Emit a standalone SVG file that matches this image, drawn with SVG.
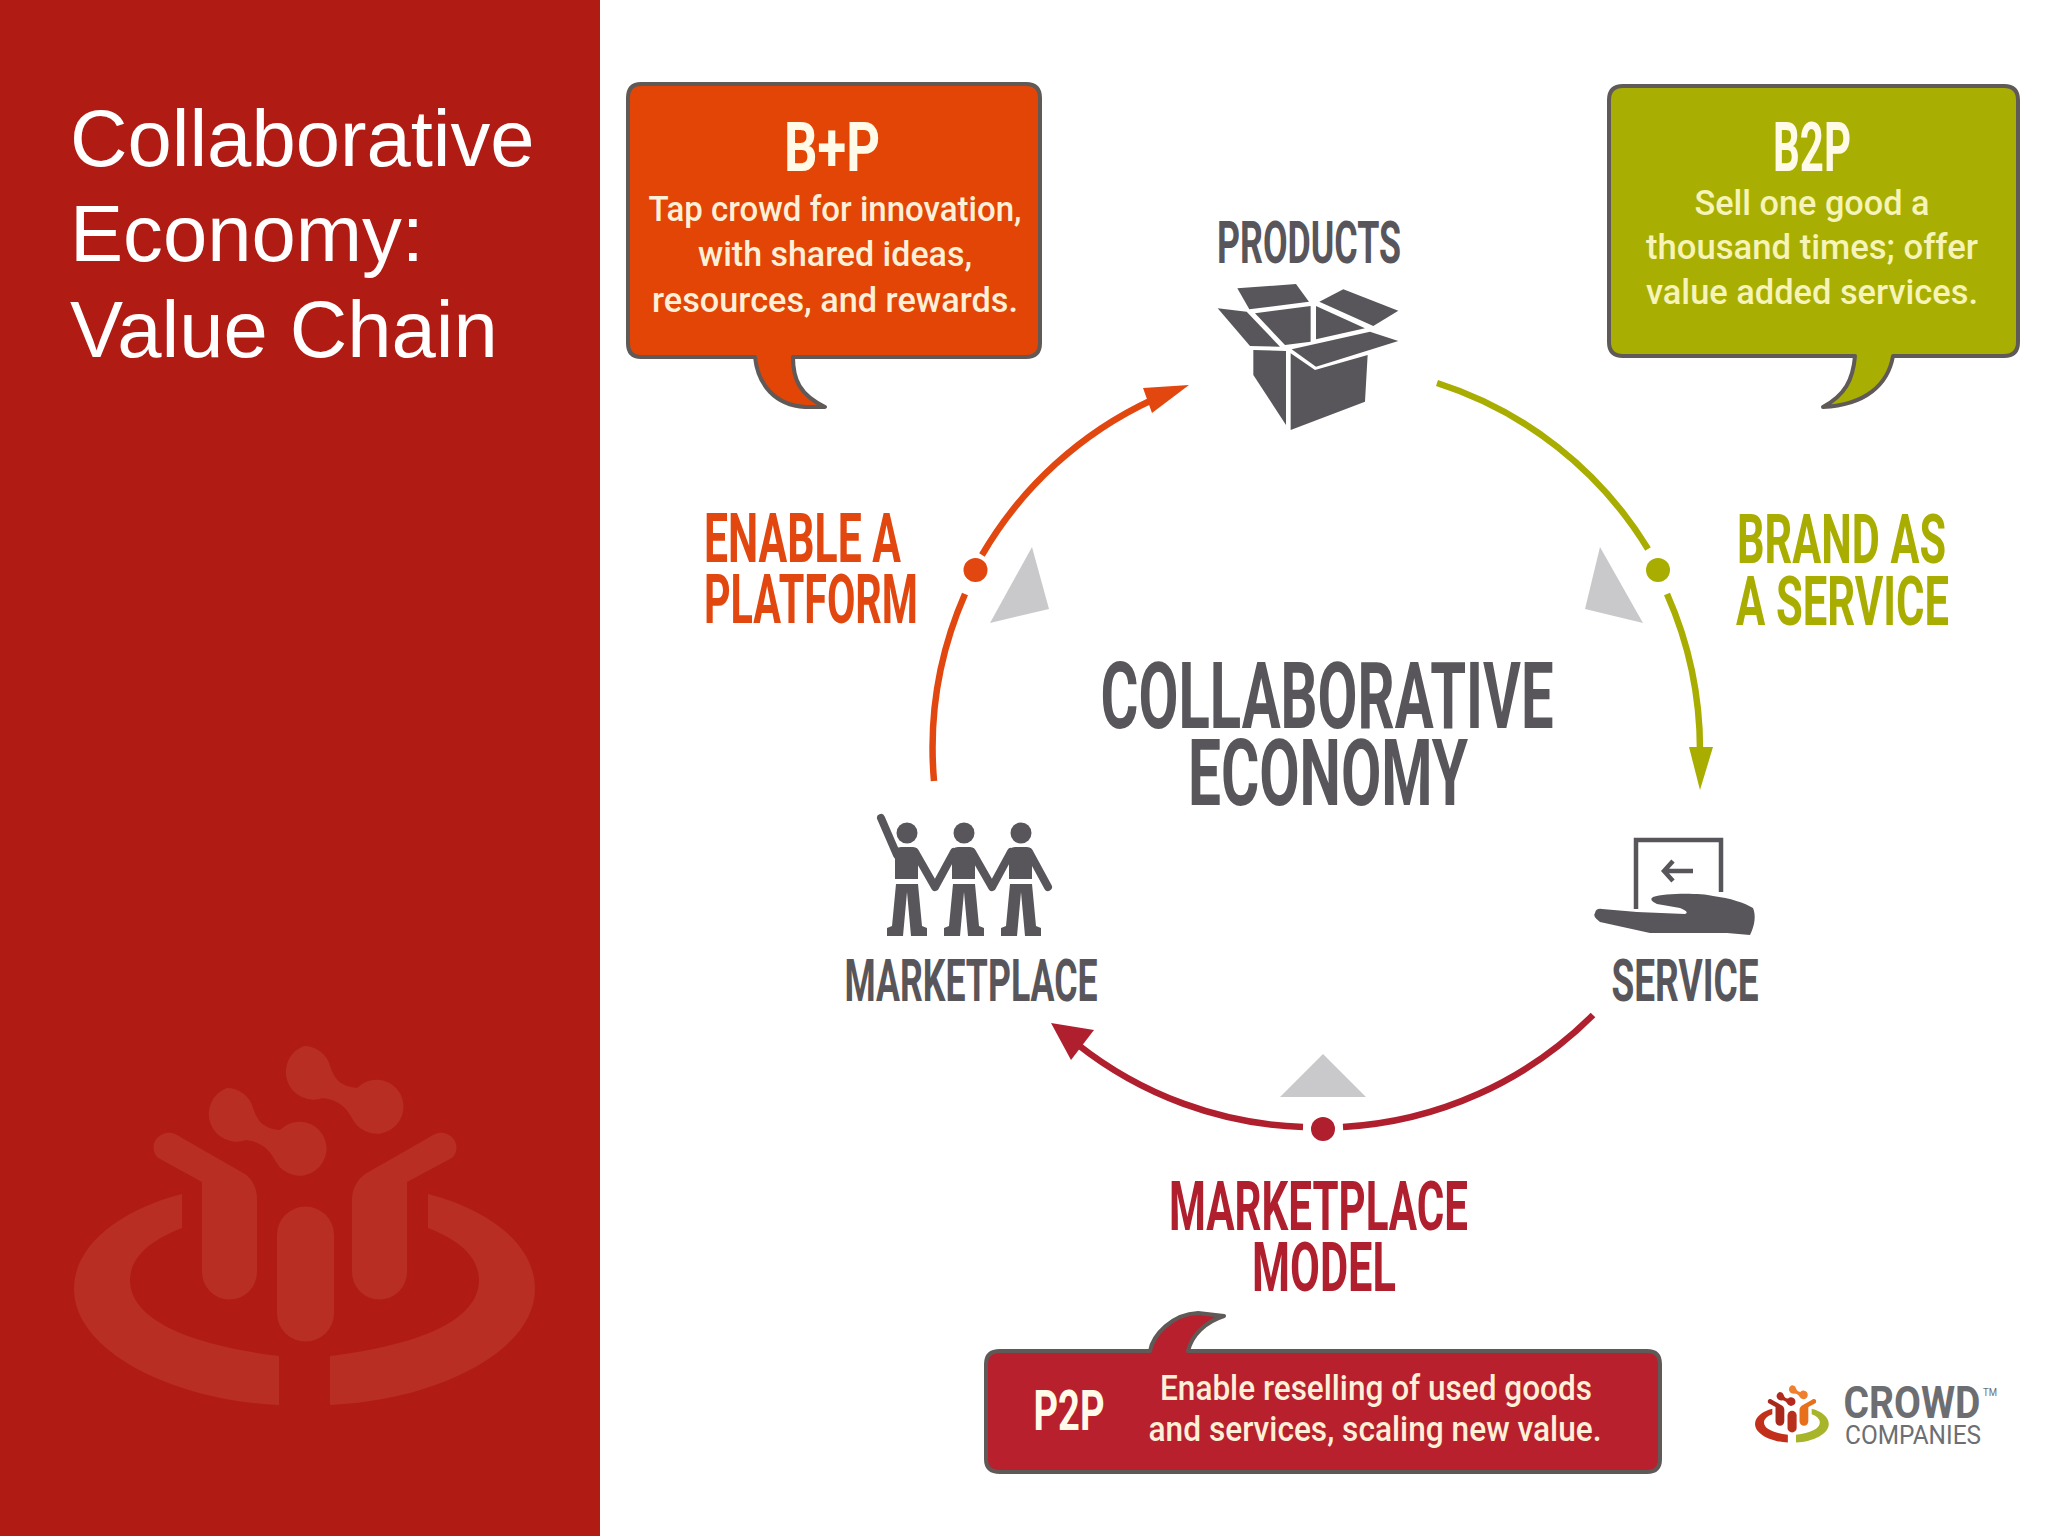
<svg xmlns="http://www.w3.org/2000/svg" xmlns:xlink="http://www.w3.org/1999/xlink" width="2048" height="1536" viewBox="0 0 2048 1536">
<style>
text{font-family:Roboto,"Liberation Sans",sans-serif;text-anchor:middle}
.title{font-family:"Liberation Sans",Arial,sans-serif;font-size:79.600px;fill:#fff;text-anchor:start}
.icon{fill:#58565a}
.name{font-size:60px;font-weight:700;fill:#58565a}
.big{font-size:92px;font-weight:700;fill:#58565a}
.lab{font-size:68px;font-weight:700}
.or{fill:#e2470f}.gr{fill:#a8ad00}.rd{fill:#b01f2e}
.box{stroke:#5f5a58;stroke-width:4;stroke-linejoin:round}
.head{font-size:68px;font-weight:700;fill:#fffbe8}
.body{font-size:35px;font-weight:500;fill:#fdf0d8}
.arc{fill:none;stroke-width:6.500}
.tri{fill:#c9c9cb}
</style>
<defs>
<path id="ringL" d="M182 1194C120 1210 74 1245 74 1289C74 1350 170 1400 279 1405V1356C190 1345 130 1320 130 1280C130 1258 150 1240 182 1228Z"/>
<path id="ringR" d="M428 1194C490 1210 535 1245 535 1289C535 1350 440 1400 330 1405V1356C420 1345 479 1320 479 1280C479 1258 460 1240 428 1228Z"/>
<path id="pill" d="M277 1235a28 28 0 0 1 57 0V1313a28 28 0 0 1-57 0Z"/>
<path id="yL" d="M157 1157C150 1148 154 1136 166 1133C172 1132 176 1134 182 1138L245 1174C254 1181 257 1190 257 1200V1272a27.500 27.500 0 0 1-55 0V1182L162 1160Z"/>
<path id="yR" d="M453 1157C460 1148 456 1136 444 1133C438 1132 434 1134 428 1138L365 1174C356 1181 352 1190 352 1200V1272a27.500 27.500 0 0 0 55 0V1182L448 1160Z"/>
<path id="dbA" d="M227 1088a27 27 0 0 1 26 20C258 1122 263 1128 280 1130a27 27 0 1 1-4 32C270 1150 262 1142 246 1140a27 27 0 1 1-19-52Z"/>
<path id="dbB" d="M304 1046a27 27 0 0 1 26 20C335 1080 340 1086 357 1088a27 27 0 1 1-4 32C347 1108 339 1100 323 1098a27 27 0 1 1-19-52Z"/>
<g id="legs">
<path d="M-11 884H11L15 926L20 928V936H4L0 892L-4 936H-20V928L-15 926Z"/>
<path d="M-12 853Q-12 847-6 847H6Q11 847 11 853V879H-12Z"/>
</g>
</defs>
<rect width="2048" height="1536" fill="#fff"/>
<g id="side-panel">
<rect width="600" height="1536" fill="#b01c14"/>
<g id="watermark" fill="#b82e22">
<use href="#ringL"/><use href="#ringR"/><use href="#pill"/><use href="#yL"/><use href="#yR"/><use href="#dbA"/><use href="#dbB"/>
</g>
<text class="title" x="70" y="166">Collaborative</text>
<text class="title" x="70" y="261">Economy:</text>
<text class="title" x="70" y="357">Value Chain</text>
</g>
<g id="connectors">
<path class="arc" stroke="#e2470f" d="M934 781A384 384 0 0 1 965 594M982 555A384 384 0 0 1 1152 400"/>
<path class="or" d="M1189 385L1143 388L1152 413Z"/>
<circle class="or" cx="975.500" cy="570" r="12"/>
<path class="arc" stroke="#a8ad00" d="M1437 383A384 384 0 0 1 1648 549M1667 594A384 384 0 0 1 1700 750"/>
<path class="gr" d="M1700 790L1689 747H1713Z"/>
<circle class="gr" cx="1658" cy="570" r="12"/>
<path class="arc" stroke="#b01f2e" d="M1593 1015A384 384 0 0 1 1343 1127M1303 1127A384 384 0 0 1 1077 1044"/>
<path class="rd" d="M1051 1023L1094 1030L1071 1060Z"/>
<circle class="rd" cx="1323" cy="1129" r="12"/>
<path class="tri" d="M1032 547L990 623L1049 609Z"/>
<path class="tri" d="M1600 547L1585 609L1643 623Z"/>
<path class="tri" d="M1323 1054L1280 1097H1366Z"/>
</g>
<g id="node-b-plus-p">
<path class="box" fill="#e24505" d="M641 84H1026Q1040 84 1040 98V343Q1040 357 1026 357H793C793 380 800 395 825 407H805C775 405 758 385 755 357H641Q628 357 628 343V98Q628 84 641 84Z"/>
<text class="head" x="832" y="171" textLength="96" lengthAdjust="spacingAndGlyphs">B+P</text>
<text class="body" x="835" y="221" textLength="373" lengthAdjust="spacingAndGlyphs">Tap crowd for innovation,</text>
<text class="body" x="835" y="266" textLength="274" lengthAdjust="spacingAndGlyphs">with shared ideas,</text>
<text class="body" x="835" y="312" textLength="366" lengthAdjust="spacingAndGlyphs">resources, and rewards.</text>
</g>
<g id="node-b2p">
<path class="box" fill="#a9af02" d="M1623 86H2004Q2018 86 2018 100V342Q2018 356 2004 356H1893C1888 385 1865 405 1823 407C1845 395 1853 380 1855 356H1623Q1609 356 1609 342V100Q1609 86 1623 86Z"/>
<text class="head" x="1812" y="171" textLength="78" lengthAdjust="spacingAndGlyphs" fill="#fffbe0">B2P</text>
<text class="body" x="1812" y="215" textLength="235" lengthAdjust="spacingAndGlyphs" style="fill:#f6f4b8">Sell one good a</text>
<text class="body" x="1812" y="259" textLength="332" lengthAdjust="spacingAndGlyphs" style="fill:#f6f4b8">thousand times; offer</text>
<text class="body" x="1812" y="304" textLength="332" lengthAdjust="spacingAndGlyphs" style="fill:#f6f4b8">value added services.</text>
</g>
<g id="node-p2p">
<path class="box" fill="#b8202e" d="M1000 1351H1150C1153 1335 1172 1314 1198 1313L1224 1316C1205 1322 1192 1335 1188 1351H1647Q1660 1351 1660 1364V1459Q1660 1472 1647 1472H1000Q986 1472 986 1459V1364Q986 1351 1000 1351Z"/>
<text class="head" x="1069" y="1430" textLength="71" lengthAdjust="spacingAndGlyphs" style="font-size:56px">P2P</text>
<text class="body" x="1376" y="1400" textLength="432" lengthAdjust="spacingAndGlyphs">Enable reselling of used goods</text>
<text class="body" x="1375" y="1441" textLength="453" lengthAdjust="spacingAndGlyphs">and services, scaling new value.</text>
</g>
<g id="node-products">
<text class="name" x="1309" y="263" textLength="184" lengthAdjust="spacingAndGlyphs">PRODUCTS</text>
<g class="icon" transform="translate(1190 270) scale(.3333)">
<path d="M142 55L318 42L357 95L178 118Z"/>
<path d="M83 115L170 125L270 230L180 228Z"/>
<path d="M388 95L460 58L625 122L550 168Z"/>
<path d="M305 238L540 185L625 213L378 290Z"/>
<path d="M195 130L362 108V215L285 225Z"/>
<path d="M378 108L525 175L378 208Z"/>
<path d="M190 240L288 243V465L190 315Z"/>
<path d="M302 250L375 300L533 255L525 395L302 480Z"/>
</g>
</g>
<g id="node-marketplace">
<g class="icon">
<circle cx="907" cy="833" r="10.500"/><circle cx="964" cy="833" r="10.500"/><circle cx="1021" cy="833" r="10.500"/>
<use href="#legs" x="907"/><use href="#legs" x="964"/><use href="#legs" x="1021"/>
<path fill="none" stroke="#58565a" stroke-width="8" stroke-linecap="round" stroke-linejoin="round" d="M881 818L897 855M915 852L935 887L954 852M972 852L992 887L1011 852M1029 852L1048 887"/>
</g>
<text class="name" x="971" y="1001" textLength="253" lengthAdjust="spacingAndGlyphs">MARKETPLACE</text>
</g>
<g id="node-service">
<path fill="none" stroke="#58565a" stroke-width="4.500" d="M1636 909V840H1721V892"/>
<path fill="none" stroke="#58565a" stroke-width="4.500" d="M1665 871H1693M1673 861L1664 871L1673 881"/>
<path class="icon" d="M1653 897C1665 893 1700 893 1713 896C1730 898 1745 903 1753 908C1756 915 1755 925 1750 935L1727 933H1650L1600 922Q1592 916 1595 913Q1596 908 1602 909L1637 912L1685 914Q1690 912 1680 908L1657 904Q1648 900 1653 897Z"/>
<text class="name" x="1685" y="1001" textLength="147" lengthAdjust="spacingAndGlyphs">SERVICE</text>
</g>
<g id="node-center">
<text class="big" x="1327" y="728" textLength="453" lengthAdjust="spacingAndGlyphs">COLLABORATIVE</text>
<text class="big" x="1328" y="805" textLength="280" lengthAdjust="spacingAndGlyphs">ECONOMY</text>
</g>
<g id="labels">
<text class="lab or" x="802.500" y="562" textLength="197" lengthAdjust="spacingAndGlyphs">ENABLE A</text>
<text class="lab or" x="811" y="623" textLength="214" lengthAdjust="spacingAndGlyphs">PLATFORM</text>
<text class="lab gr" x="1841.500" y="563" textLength="209" lengthAdjust="spacingAndGlyphs">BRAND AS</text>
<text class="lab gr" x="1842.500" y="625" textLength="213" lengthAdjust="spacingAndGlyphs">A SERVICE</text>
<text class="lab rd" x="1318.500" y="1230" textLength="299" lengthAdjust="spacingAndGlyphs">MARKETPLACE</text>
<text class="lab rd" x="1324" y="1291" textLength="144" lengthAdjust="spacingAndGlyphs">MODEL</text>
</g>
<g id="crowd-logo">
<g transform="translate(1743.200 1217.800) scale(.16)">
<use href="#ringL" fill="#c22f1a"/><use href="#ringR" fill="#a8b52a"/><use href="#pill" fill="#b8301c"/><use href="#yL" fill="#a9281c"/><use href="#yR" fill="#e8701a"/><use href="#dbA" fill="#b22a1d"/><use href="#dbB" fill="#ee8030"/>
</g>
<text x="1912" y="1418" textLength="137" lengthAdjust="spacingAndGlyphs" font-size="44" font-weight="700" fill="#6d6e71">CROWD</text>
<text x="1990" y="1396" textLength="14" lengthAdjust="spacingAndGlyphs" font-size="11" fill="#6d6e71">TM</text>
<text x="1913" y="1444" textLength="136" lengthAdjust="spacingAndGlyphs" font-size="25" fill="#6d6e71">COMPANIES</text>
</g>
</svg>
